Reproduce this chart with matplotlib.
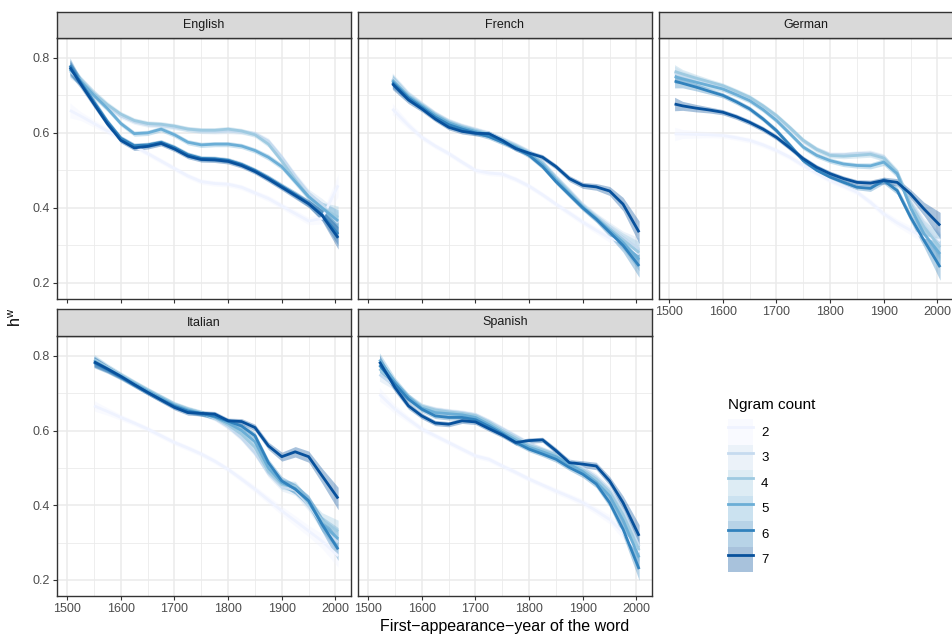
import matplotlib
matplotlib.use("Agg")
import matplotlib.pyplot as plt
from matplotlib.lines import Line2D
from matplotlib.patches import Patch
from matplotlib.legend_handler import HandlerTuple
import numpy as np

plt.rcParams['font.family'] = ['Liberation Sans', 'DejaVu Sans']

# ---------------- data ----------------
ngrams = [2, 3, 4, 5, 6, 7]
colors = ['#EFF3FF', '#C6DBEF', '#9ECAE1', '#6BAED6', '#3182BD', '#08519C']
languages = ['English', 'French', 'German', 'Italian', 'Spanish']

EN_years = [1505, 1525, 1550, 1575, 1600, 1625, 1650, 1675, 1700, 1725, 1750, 1775, 1800, 1825, 1850, 1875, 1900, 1925, 1950, 1975, 2005]
EN_2 = [0.660, 0.645, 0.625, 0.605, 0.585, 0.565, 0.545, 0.525, 0.505, 0.485, 0.470, 0.465, 0.463, 0.455, 0.440, 0.425, 0.405, 0.385, 0.365, 0.372, 0.460]
EN_3 = [0.765, 0.738, 0.704, 0.672, 0.645, 0.630, 0.622, 0.620, 0.615, 0.610, 0.605, 0.604, 0.605, 0.603, 0.598, 0.578, 0.535, 0.485, 0.440, 0.410, 0.360]
EN_4 = [0.770, 0.740, 0.705, 0.675, 0.650, 0.633, 0.625, 0.623, 0.618, 0.610, 0.607, 0.607, 0.610, 0.605, 0.595, 0.570, 0.525, 0.475, 0.430, 0.400, 0.375]
EN_5 = [0.770, 0.738, 0.700, 0.665, 0.625, 0.598, 0.600, 0.610, 0.595, 0.575, 0.568, 0.570, 0.570, 0.565, 0.553, 0.535, 0.510, 0.470, 0.430, 0.400, 0.365]
EN_6 = [0.780, 0.735, 0.682, 0.630, 0.586, 0.566, 0.568, 0.575, 0.561, 0.542, 0.532, 0.531, 0.527, 0.516, 0.500, 0.480, 0.458, 0.436, 0.412, 0.382, 0.330]
EN_7 = [0.775, 0.731, 0.677, 0.624, 0.580, 0.560, 0.564, 0.572, 0.557, 0.538, 0.529, 0.528, 0.524, 0.513, 0.497, 0.477, 0.455, 0.433, 0.411, 0.380, 0.320]
EN_band = [0.020, 0.012, 0.010, 0.008, 0.007, 0.007, 0.007, 0.007, 0.007, 0.007, 0.007, 0.007, 0.007, 0.007, 0.007, 0.008, 0.008, 0.009, 0.010, 0.015, 0.030]

FR_years = [1545, 1575, 1600, 1625, 1650, 1675, 1700, 1725, 1750, 1775, 1800, 1825, 1850, 1875, 1900, 1925, 1950, 1975, 2005]
FR_2 = [0.664, 0.620, 0.588, 0.565, 0.545, 0.522, 0.500, 0.493, 0.490, 0.476, 0.458, 0.435, 0.410, 0.386, 0.362, 0.340, 0.320, 0.308, 0.277]
FR_3 = [0.745, 0.702, 0.677, 0.652, 0.632, 0.619, 0.609, 0.599, 0.584, 0.568, 0.550, 0.522, 0.483, 0.446, 0.408, 0.378, 0.350, 0.320, 0.290]
FR_4 = [0.742, 0.700, 0.675, 0.650, 0.630, 0.617, 0.607, 0.597, 0.582, 0.566, 0.548, 0.520, 0.480, 0.443, 0.405, 0.375, 0.345, 0.315, 0.280]
FR_5 = [0.740, 0.697, 0.672, 0.647, 0.627, 0.614, 0.604, 0.594, 0.579, 0.563, 0.545, 0.515, 0.475, 0.438, 0.402, 0.372, 0.340, 0.308, 0.262]
FR_6 = [0.735, 0.693, 0.668, 0.642, 0.622, 0.610, 0.600, 0.590, 0.575, 0.560, 0.540, 0.510, 0.470, 0.435, 0.400, 0.370, 0.335, 0.300, 0.245]
FR_7 = [0.731, 0.688, 0.664, 0.637, 0.615, 0.604, 0.599, 0.598, 0.580, 0.558, 0.546, 0.535, 0.510, 0.478, 0.460, 0.456, 0.445, 0.410, 0.335]
FR_band = [0.015, 0.010, 0.008, 0.007, 0.007, 0.007, 0.007, 0.007, 0.007, 0.007, 0.007, 0.007, 0.007, 0.008, 0.008, 0.009, 0.012, 0.018, 0.030]

DE_years = [1510, 1525, 1550, 1575, 1600, 1625, 1650, 1675, 1700, 1725, 1750, 1775, 1800, 1825, 1850, 1875, 1900, 1925, 1950, 1975, 2005]
DE_2 = [0.597, 0.597, 0.596, 0.595, 0.593, 0.587, 0.580, 0.568, 0.553, 0.535, 0.513, 0.493, 0.473, 0.458, 0.442, 0.415, 0.384, 0.360, 0.340, 0.322, 0.313]
DE_3 = [0.760, 0.753, 0.743, 0.733, 0.722, 0.708, 0.692, 0.670, 0.644, 0.612, 0.578, 0.556, 0.542, 0.542, 0.545, 0.546, 0.535, 0.490, 0.415, 0.355, 0.300]
DE_4 = [0.764, 0.757, 0.746, 0.736, 0.726, 0.711, 0.695, 0.672, 0.646, 0.614, 0.580, 0.556, 0.540, 0.538, 0.540, 0.543, 0.533, 0.495, 0.410, 0.349, 0.295]
DE_5 = [0.750, 0.744, 0.735, 0.726, 0.717, 0.702, 0.686, 0.662, 0.633, 0.598, 0.562, 0.540, 0.526, 0.517, 0.513, 0.512, 0.522, 0.491, 0.400, 0.331, 0.277]
DE_6 = [0.738, 0.732, 0.722, 0.711, 0.700, 0.683, 0.664, 0.637, 0.606, 0.567, 0.526, 0.500, 0.482, 0.468, 0.455, 0.452, 0.473, 0.446, 0.375, 0.313, 0.242]
DE_7 = [0.677, 0.672, 0.666, 0.661, 0.655, 0.643, 0.628, 0.610, 0.588, 0.560, 0.531, 0.508, 0.491, 0.478, 0.468, 0.466, 0.473, 0.468, 0.437, 0.397, 0.353]
DE_band = [0.018, 0.012, 0.010, 0.008, 0.007, 0.007, 0.007, 0.007, 0.007, 0.007, 0.007, 0.007, 0.007, 0.007, 0.007, 0.008, 0.009, 0.010, 0.012, 0.018, 0.035]

IT_years = [1550, 1575, 1600, 1625, 1650, 1675, 1700, 1725, 1750, 1775, 1800, 1825, 1850, 1875, 1900, 1925, 1950, 1975, 2005]
IT_2 = [0.666, 0.651, 0.635, 0.620, 0.604, 0.586, 0.568, 0.553, 0.537, 0.518, 0.496, 0.470, 0.443, 0.414, 0.385, 0.358, 0.331, 0.304, 0.264]
IT_3 = [0.788, 0.768, 0.748, 0.728, 0.708, 0.689, 0.670, 0.657, 0.647, 0.633, 0.610, 0.580, 0.540, 0.485, 0.450, 0.440, 0.400, 0.350, 0.300]
IT_4 = [0.790, 0.769, 0.749, 0.729, 0.709, 0.690, 0.671, 0.658, 0.648, 0.635, 0.615, 0.590, 0.555, 0.490, 0.455, 0.450, 0.405, 0.360, 0.330]
IT_5 = [0.786, 0.766, 0.746, 0.726, 0.706, 0.687, 0.668, 0.655, 0.646, 0.636, 0.620, 0.600, 0.570, 0.500, 0.460, 0.445, 0.410, 0.350, 0.310]
IT_6 = [0.782, 0.763, 0.743, 0.722, 0.702, 0.683, 0.665, 0.652, 0.645, 0.638, 0.625, 0.612, 0.586, 0.514, 0.465, 0.443, 0.412, 0.349, 0.282]
IT_7 = [0.784, 0.765, 0.745, 0.723, 0.702, 0.682, 0.662, 0.648, 0.646, 0.644, 0.626, 0.624, 0.608, 0.559, 0.530, 0.543, 0.530, 0.479, 0.418]
IT_band = [0.014, 0.010, 0.008, 0.007, 0.007, 0.007, 0.007, 0.007, 0.007, 0.007, 0.007, 0.008, 0.009, 0.010, 0.012, 0.014, 0.015, 0.020, 0.030]

ES_years = [1521, 1550, 1575, 1600, 1625, 1650, 1675, 1700, 1725, 1750, 1775, 1800, 1825, 1850, 1875, 1900, 1925, 1950, 1975, 2005]
ES_2 = [0.697, 0.657, 0.630, 0.604, 0.586, 0.568, 0.550, 0.532, 0.523, 0.505, 0.488, 0.470, 0.454, 0.438, 0.423, 0.407, 0.385, 0.362, 0.327, 0.273]
ES_3 = [0.750, 0.720, 0.688, 0.665, 0.657, 0.652, 0.648, 0.642, 0.625, 0.605, 0.585, 0.565, 0.550, 0.535, 0.518, 0.500, 0.475, 0.440, 0.385, 0.290]
ES_4 = [0.765, 0.725, 0.690, 0.665, 0.655, 0.650, 0.646, 0.640, 0.622, 0.600, 0.580, 0.560, 0.548, 0.535, 0.515, 0.495, 0.470, 0.435, 0.375, 0.280]
ES_5 = [0.790, 0.730, 0.690, 0.660, 0.648, 0.645, 0.642, 0.635, 0.616, 0.595, 0.574, 0.555, 0.543, 0.530, 0.510, 0.490, 0.462, 0.425, 0.360, 0.260]
ES_6 = [0.775, 0.724, 0.684, 0.657, 0.639, 0.635, 0.635, 0.629, 0.611, 0.591, 0.568, 0.550, 0.537, 0.523, 0.501, 0.483, 0.457, 0.407, 0.336, 0.229]
ES_7 = [0.784, 0.715, 0.666, 0.639, 0.620, 0.617, 0.626, 0.623, 0.605, 0.588, 0.568, 0.573, 0.575, 0.546, 0.514, 0.510, 0.505, 0.465, 0.407, 0.318]
ES_band = [0.018, 0.012, 0.009, 0.008, 0.007, 0.007, 0.007, 0.007, 0.007, 0.007, 0.007, 0.007, 0.007, 0.008, 0.008, 0.009, 0.010, 0.012, 0.018, 0.030]

x_ticks = [1500, 1600, 1700, 1800, 1900, 2000]
y_ticks = [0.2, 0.4, 0.6, 0.8]

panels = {
    'English': (EN_years, [EN_2, EN_3, EN_4, EN_5, EN_6, EN_7], EN_band),
    'French': (FR_years, [FR_2, FR_3, FR_4, FR_5, FR_6, FR_7], FR_band),
    'German': (DE_years, [DE_2, DE_3, DE_4, DE_5, DE_6, DE_7], DE_band),
    'Italian': (IT_years, [IT_2, IT_3, IT_4, IT_5, IT_6, IT_7], IT_band),
    'Spanish': (ES_years, [ES_2, ES_3, ES_4, ES_5, ES_6, ES_7], ES_band),
}

# ---------------- layout ----------------
W, H = 953, 634
fig = plt.figure(figsize=(W / 100, H / 100), dpi=100)

pw = 294
boxes = {
    'English': (57, 12, 38, 299),
    'French': (358, 12, 38, 299),
    'German': (659, 12, 38, 299),
    'Italian': (57, 309, 336, 596),
    'Spanish': (358, 309, 336, 596),
}
xlabels_on = {'German', 'Italian', 'Spanish'}
ylabels_on = {'English', 'Italian'}

grid_col = '#EBEBEB'
border_col = '#333333'
tick_col = '#4D4D4D'

for lang in languages:
    l, ts, tp, bp = boxes[lang]
    ax = fig.add_axes([l / W, 1 - bp / H, pw / W, (bp - tp) / H])
    years, series, band = panels[lang]
    yrs = np.array(years)
    bnd = np.array(band)
    for n, col, vals in zip(ngrams, colors, series):
        v = np.array(vals)
        ax.fill_between(yrs, v - bnd, v + bnd, color=col, alpha=0.35, lw=0, zorder=2)
        ax.plot(yrs, v, color=col, lw=2.0, solid_capstyle='butt', solid_joinstyle='round', zorder=3)
    ax.set_xlim(1481, 2029)
    ax.set_ylim(0.157, 0.853)
    ax.set_xticks(x_ticks)
    ax.set_xticks([1550, 1650, 1750, 1850, 1950], minor=True)
    ax.set_yticks(y_ticks)
    ax.set_yticks([0.3, 0.5, 0.7], minor=True)
    ax.grid(True, which='major', color=grid_col, lw=1.1, zorder=0)
    ax.grid(True, which='minor', color=grid_col, lw=0.6, zorder=0)
    ax.set_axisbelow(True)
    ax.tick_params(which='major', direction='out', length=3, width=0.8, color=border_col,
                   labelsize=9, labelcolor=tick_col, pad=2)
    ax.tick_params(which='minor', length=0)
    if lang not in xlabels_on:
        ax.tick_params(axis='x', which='major', labelbottom=False)
    if lang not in ylabels_on:
        ax.tick_params(axis='y', which='major', left=False, labelleft=False)
    for s in ax.spines.values():
        s.set_color(border_col)
        s.set_linewidth(1.0)
    sax = fig.add_axes([l / W, 1 - tp / H, pw / W, (tp - ts) / H])
    sax.set_facecolor('#D9D9D9')
    sax.set_xticks([])
    sax.set_yticks([])
    for s in sax.spines.values():
        s.set_color(border_col)
        s.set_linewidth(1.0)
    sax.text(0.5, 0.5, lang, ha='center', va='center', fontsize=9, color='#1A1A1A',
             transform=sax.transAxes)

fig.text(505 / W, 1 - 626 / H, 'First\u2212appearance\u2212year of the word', ha='center', va='center',
         fontsize=11.5, color='black')
fig.text(16 / W, 1 - 317 / H, r'$\mathregular{h^w}$', ha='center', va='center', rotation=90,
         fontsize=11.5, color='black')

# legend
fig.text(728 / W, 1 - 405 / H, 'Ngram count', ha='left', va='center', fontsize=11, color='black')
handles = []
for col in colors:
    handles.append((Patch(facecolor=col, alpha=0.35, edgecolor='none'),
                    Line2D([], [], color=col, lw=2.0)))
leg = fig.legend(handles, [str(n) for n in ngrams], loc='upper left',
                 bbox_to_anchor=(728 / W, 1 - 419 / H), frameon=False,
                 fontsize=9.5, borderpad=0,
                 handlelength=1.9, handleheight=2.6, labelspacing=0.0,
                 handletextpad=0.6, borderaxespad=0,
                 handler_map={tuple: HandlerTuple(ndivide=1, pad=0)})

fig.savefig('out.png', dpi=100)
